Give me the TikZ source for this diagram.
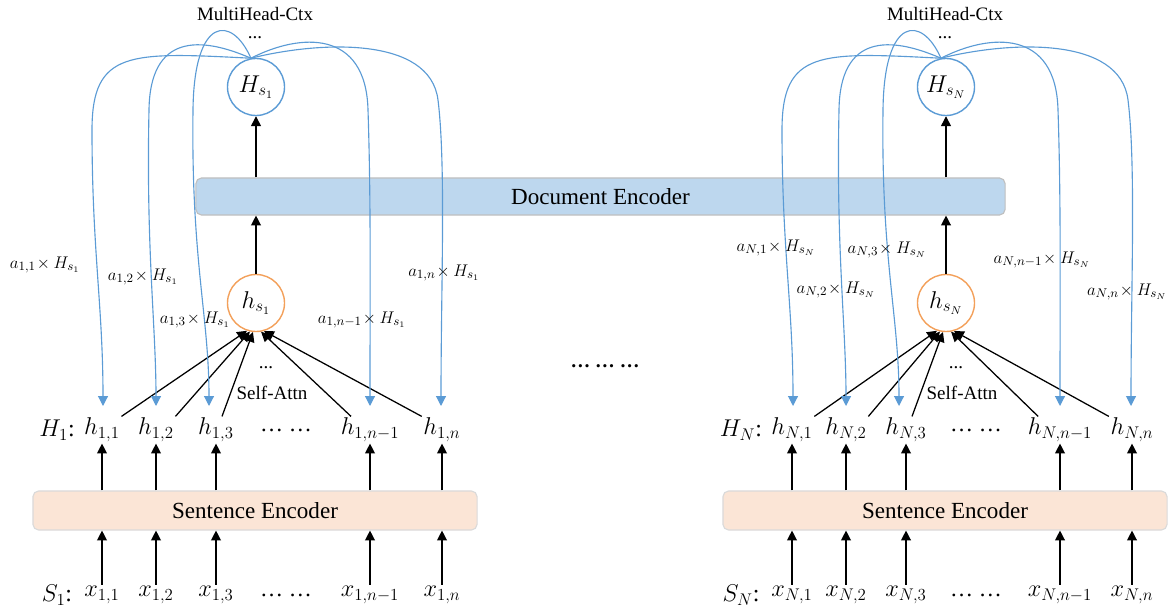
\documentclass[tikz,border=0pt]{standalone}
\usepackage{fontspec}
\setmainfont{Liberation Serif}
\usetikzlibrary{positioning, arrows.meta, calc}

\definecolor{ctxblue}{HTML}{5B9BD5}
\definecolor{docfill}{HTML}{BDD7EE}
\definecolor{docline}{HTML}{BFBFBF}
\definecolor{sentfill}{HTML}{FBE5D6}
\definecolor{sentline}{HTML}{DADADA}
\definecolor{sentorange}{HTML}{F3A05A}

\begin{document}
\begin{tikzpicture}[
        x=0.025cm, y=-0.025cm,
        % Stili globali
        every node/.style={font=\fontsize{16.4}{19}\selectfont},
        small/.style={font=\fontsize{13.5}{16}\selectfont, inner sep=1pt},
        weight/.style={font=\fontsize{13}{15}\selectfont},
        tok/.style={inner sep=1pt, font=\fontsize{17}{19}\selectfont},
        encbox/.style={rounded corners=4pt, line width=0.8pt},
        ctxnode/.style={circle, draw=ctxblue, line width=1pt, minimum size=1.425cm, inner sep=0pt},
        sentnode/.style={circle, draw=sentorange, line width=1pt, minimum size=1.425cm, inner sep=0pt},
        up/.style={-{Triangle[length=7pt,width=7pt]}, line width=0.9pt},
        ctx/.style={ctxblue, line width=0.8pt, -{Triangle[length=7pt,width=7pt]}}
    ]
    \useasboundingbox (0,0) rectangle (1169,610);

    % encoder condiviso
    \node[encbox, fill=docfill, draw=docline, minimum width=20.225cm, minimum height=0.925cm]
        (doc) at (600.5,196.5) {Document Encoder};

    \node[font=\bfseries\fontsize{14}{16}\selectfont] (gap) at (605,366) {… … …};

    % un pannello per frase
    \foreach \p/\dx/\s/\lx in {L/0/1/57, R/690/N/51} {
        \begin{scope}[shift={(\dx,0)}]
            \node[small] (\p-title) at (255,14) {MultiHead-Ctx};
            \node[small] (\p-more) at (255,38) {...};
            \node[ctxnode] (\p-H) at (256,87) {$H_{s_{\s}}$};
            \node[sentnode] (\p-hs) at (256,303) {$h_{s_{\s}}$};
            \node[small] (\p-dots) at (266,368) {...};
            \node[small] (\p-sa) at (272,393) {Self-Attn};
            \node[encbox, fill=sentfill, draw=sentline, minimum width=11.1cm, minimum height=0.975cm]
                (\p-enc) at (255,510.5) {Sentence Encoder};

            \node[tok] (\p-Hlab) at (\lx,430) {$H_{\s}$:};
            \node[tok] (\p-Slab) at (\lx,595) {$S_{\s}$:};
            \node (\p-hgap) at (286,430) {… …};
            \node (\p-xgap) at (286,595) {… …};

            \foreach \i/\x/\j in {1/102/1, 2/156/2, 3/216/3, 4/370/n-1, 5/442/n} {
                \node[tok] (\p-h\i) at (\x,430) {$h_{\s,\j}$};
                \node[tok] (\p-x\i) at (\x,595) {$x_{\s,\j}$};
                \draw[up] (\p-x\i) -- (\p-x\i |- \p-enc.south);
                \draw[up] (\p-h\i |- \p-enc.north) -- (\p-h\i);
            }

            \draw[up] (\p-hs) -- (\p-hs |- doc.south);
            \draw[up] (\p-H |- doc.north) -- (\p-H);

            % Self-Attn
            \draw[up] (\p-h1.north east) -- (\p-hs.252);
            \draw[up] (\p-h2.north east) -- (\p-hs.258);
            \draw[up] ($(\p-h3.north)+(6,0)$) -- (\p-hs.264);
            \draw[up] ($(\p-h4.north west)+(12,0)$) -- (\p-hs.280);
            \draw[up] (\p-h5.north west) -- (\p-hs.286);

            % MultiHead-Ctx
            \coordinate (\p-t1) at ($(\p-h1)+(1,-24)$);
            \coordinate (\p-t2) at ($(\p-h2)+(0,-24)$);
            \coordinate (\p-t3) at ($(\p-h3)+(-7,-24)$);
            \coordinate (\p-t4) at ($(\p-h4)+(0,-24)$);
            \coordinate (\p-t5) at ($(\p-h5)+(-1,-24)$);
            \draw[ctx] (\p-H.100) .. controls (130,52) and (92,50) .. (92,130)
                .. controls (92,250) and +(0,-100) .. (\p-t1);
            \draw[ctx] (\p-H.100) .. controls (200,36) and (150,34) .. (149,110)
                .. controls (146,250) and +(0,-80) .. (\p-t2);
            \draw[ctx] (\p-H.100) .. controls (232,15) and (194,15) .. (193,110)
                .. controls (191,260) and +(0,-90) .. (\p-t3);
            \draw[ctx] (\p-H.100) .. controls (300,33) and (366,29) .. (368,110)
                .. controls (371,200) and +(0,-120) .. (\p-t4);
            \draw[ctx] (\p-H.100) .. controls (320,41) and (430,36) .. (438,100)
                .. controls (446,165) and +(0,-120) .. (\p-t5);
        \end{scope}
    }

    % pesi di attenzione
    \node[weight] (L-w1) at (45,265) {$a_{1,1}\!\times H_{s_1}$};
    \node[weight] (L-w2) at (143,277) {$a_{1,2}\!\times H_{s_1}$};
    \node[weight] (L-w3) at (195,320) {$a_{1,3}\!\times H_{s_1}$};
    \node[weight] (L-w4) at (362,320) {$a_{1,n-1}\!\times H_{s_1}$};
    \node[weight] (L-w5) at (444,273) {$a_{1,n}\!\times H_{s_1}$};

    \node[weight] (R-w1) at (776,248) {$a_{N,1}\!\times H_{s_N}$};
    \node[weight] (R-w2) at (836,290) {$a_{N,2}\!\times H_{s_N}$};
    \node[weight] (R-w3) at (887,250) {$a_{N,3}\!\times H_{s_N}$};
    \node[weight] (R-w4) at (1042,260) {$a_{N,n-1}\!\times H_{s_N}$};
    \node[weight] (R-w5) at (1127,292) {$a_{N,n}\!\times H_{s_N}$};
\end{tikzpicture}
\end{document}
